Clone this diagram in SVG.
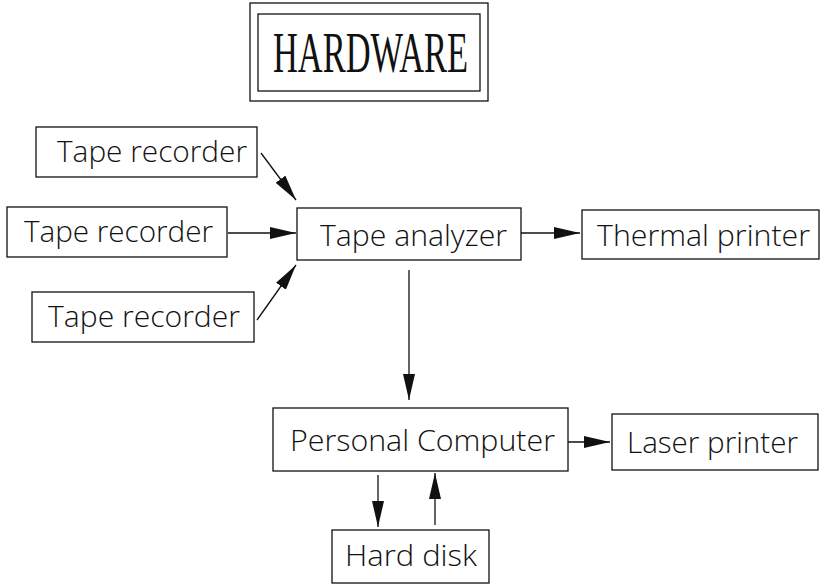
<svg xmlns="http://www.w3.org/2000/svg" width="820" height="585" viewBox="0 0 820 585">
<style>
.box{fill:#fff;stroke:#111;stroke-width:1.3}
.lbl{font-family:"Open Sans","Liberation Sans",Arial,sans-serif;font-weight:300;font-size:29px;fill:#111}
.title{font-family:"Liberation Serif","Times New Roman",serif;font-size:58px;fill:#111}
.conn{stroke:#111;stroke-width:1.3;fill:none;marker-end:url(#ah)}
</style>
<defs>
<marker id="ah" markerUnits="userSpaceOnUse" markerWidth="28" markerHeight="14" refX="26" refY="6" orient="auto">
<path d="M0,0 L26,6 L0,12 z" fill="#111"/>
</marker>
</defs>
<rect width="820" height="585" fill="#fff"/>
<g id="title">
<rect class="box" x="250" y="3" width="238" height="98"/>
<rect class="box" x="258" y="14" width="222" height="77"/>
<text class="title" x="273" y="72" textLength="195" lengthAdjust="spacingAndGlyphs">HARDWARE</text>
</g>
<g id="tape-recorder-1">
<rect class="box" x="36" y="127" width="221" height="50"/>
<text class="lbl" x="57" y="162" textLength="190" lengthAdjust="spacingAndGlyphs">Tape recorder</text>
</g>
<g id="tape-recorder-2">
<rect class="box" x="7" y="207" width="220" height="50"/>
<text class="lbl" x="24" y="242" textLength="189" lengthAdjust="spacingAndGlyphs">Tape recorder</text>
</g>
<g id="tape-recorder-3">
<rect class="box" x="32" y="292" width="222" height="50"/>
<text class="lbl" x="48" y="327" textLength="192" lengthAdjust="spacingAndGlyphs">Tape recorder</text>
</g>
<g id="tape-analyzer">
<rect class="box" x="297" y="208" width="224" height="52"/>
<text class="lbl" x="320" y="246" textLength="187" lengthAdjust="spacingAndGlyphs">Tape analyzer</text>
</g>
<g id="thermal-printer">
<rect class="box" x="582" y="210" width="237" height="49"/>
<text class="lbl" x="597" y="246" textLength="213" lengthAdjust="spacingAndGlyphs">Thermal printer</text>
</g>
<g id="personal-computer">
<rect class="box" x="273" y="408" width="295" height="63"/>
<text class="lbl" x="290" y="451" textLength="265" lengthAdjust="spacingAndGlyphs">Personal Computer</text>
</g>
<g id="laser-printer">
<rect class="box" x="612" y="414" width="206" height="56"/>
<text class="lbl" x="627" y="453" textLength="171" lengthAdjust="spacingAndGlyphs">Laser printer</text>
</g>
<g id="hard-disk">
<rect class="box" x="332" y="530" width="157" height="53"/>
<text class="lbl" x="345" y="566" textLength="132" lengthAdjust="spacingAndGlyphs">Hard disk</text>
</g>
<g id="connectors">
<line class="conn" x1="261" y1="153" x2="296" y2="200"/>
<line class="conn" x1="228" y1="233" x2="296" y2="233"/>
<line class="conn" x1="257" y1="320" x2="296" y2="265"/>
<line class="conn" x1="521" y1="233" x2="580" y2="233"/>
<line class="conn" x1="409" y1="270" x2="409" y2="400"/>
<line class="conn" x1="568" y1="442" x2="610" y2="442"/>
<line class="conn" x1="378" y1="475" x2="378" y2="527"/>
<line class="conn" x1="435" y1="525" x2="435" y2="473"/>
</g>
</svg>
